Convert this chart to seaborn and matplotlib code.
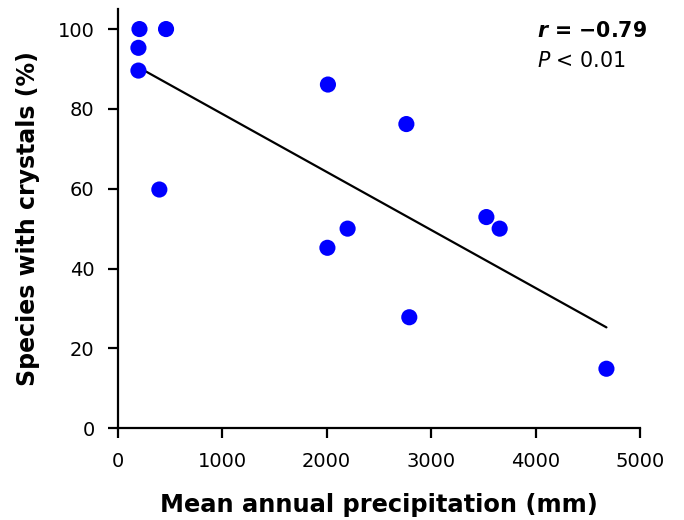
import matplotlib
matplotlib.use("Agg")
import matplotlib.pyplot as plt
import seaborn as sns
import pandas as pd

# Data
precip_mm = [210, 464, 200, 200, 400, 2012, 2007, 2200, 2762, 2790, 3527, 3654, 4675]
species_pct = [100, 100, 95.3, 89.6, 59.8, 86.1, 45.2, 50.0, 76.2, 27.8, 52.9, 50.0, 14.9]
x_ticks = [0, 1000, 2000, 3000, 4000, 5000]
y_ticks = [0, 20, 40, 60, 80, 100]
r_text = "\u22120.79"
p_text = "0.01"

df = pd.DataFrame({"precip": precip_mm, "species": species_pct})

sns.set_style("ticks")
plt.rcParams["font.family"] = ["DejaVu Sans"]
plt.rcParams["text.color"] = "black"
plt.rcParams["axes.labelcolor"] = "black"
plt.rcParams["xtick.color"] = "black"
plt.rcParams["ytick.color"] = "black"
plt.rcParams["axes.edgecolor"] = "black"

fig = plt.figure(figsize=(6.84, 5.2), dpi=100)
ax = fig.add_axes([0.1718, 0.1765, 0.7645, 0.806])

sns.regplot(data=df, x="precip", y="species", ci=None, truncate=True, ax=ax,
            scatter_kws=dict(s=135, color="#0000FF", edgecolor="none", alpha=1, zorder=3),
            line_kws=dict(color="black", lw=1.6, zorder=2))

ax.set_xlim(0, 5000)
ax.set_ylim(0, 105)
ax.set_xticks(x_ticks)
ax.set_yticks(y_ticks)
sns.despine(ax=ax)
for s in ("left", "bottom"):
    ax.spines[s].set_linewidth(1.6)
ax.tick_params(axis="both", width=1.6, length=7, labelsize=14, colors="black")
ax.tick_params(axis="x", pad=10)
ax.tick_params(axis="y", pad=9.5)

ax.set_xlabel("Mean annual precipitation (mm)", fontsize=17.4, fontweight="bold", labelpad=16)
ax.set_ylabel("Species with crystals (%)", fontsize=17, fontweight="bold", labelpad=13)

ax.text(4010, 98.1, r"$\mathbfit{r}$ = " + r_text, fontsize=14.8, fontweight="bold", va="baseline", ha="left")
ax.text(4010, 90.4, r"$P$ < " + p_text, fontsize=14.8, va="baseline", ha="left")

fig.savefig("out.png", dpi=100)
